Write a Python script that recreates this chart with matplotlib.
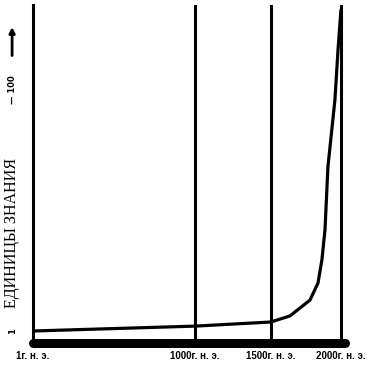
import numpy as np
import matplotlib
matplotlib.use('Agg')
import matplotlib.pyplot as plt

# годы и "единицы знания"
years = [1, 1000, 1500, 1636, 1779, 1836, 1864, 1886, 1907, 1957, 1979, 2000]
knowledge = [1.0, 3.0, 4.7, 7.2, 13.7, 20.7, 30.2, 42.5, 68.4, 95.9, 116.4, 132.9]
tick_years = [1, 1000, 1500, 2000]
tick_labels = ['1г. н. э.', '1000г. н. э.', '1500г. н. э.', '2000г. н. э.']
vlines = [1000, 1500, 2000]
ytick_vals = [1, 100]

# ось времени на рисунке не линейная: кусочная шкала
anchor_y = [-100, 1, 1000, 1500, 2000, 2100]
anchor_p = [-16.2, 0, 162, 238, 308, 322]

def fwd(x):
    return np.interp(x, anchor_y, anchor_p)

def inv(p):
    return np.interp(p, anchor_p, anchor_y)

fig = plt.figure(figsize=(3.76, 3.68), dpi=100)
ax = fig.add_axes([33/376, 25/368, 312/376, 338/368])
ax.set_xscale('function', functions=(fwd, inv))
ax.set_xlim(1, 2029)
ax.set_ylim(-3.93, 134.9)

for v in vlines:
    ax.axvline(v, color='black', lw=2.2, zorder=2)

ax.plot(years, knowledge, color='black', lw=2.3, solid_capstyle='round', zorder=3)

ax.spines['top'].set_visible(False)
ax.spines['right'].set_visible(False)
ax.spines['left'].set_linewidth(2.2)
ax.spines['bottom'].set_linewidth(6.5)
ax.spines['bottom'].set_capstyle('round')

ax.set_xticks(tick_years)
ax.set_xticklabels(tick_labels, family='Liberation Sans', fontweight='bold', fontsize=7)
ax.tick_params(axis='x', length=0, pad=6)
ax.set_yticks([])

tr = ax.get_yaxis_transform()
ax.text(-0.067, ytick_vals[0], '1', transform=tr, rotation=90, ha='center', va='center',
        fontsize=6, fontweight='bold')
ax.text(-0.067, ytick_vals[1], '— 100', transform=tr, rotation=90, ha='center', va='center',
        fontsize=6, fontweight='bold')
ax.annotate('', xy=(-0.067, 127), xytext=(-0.067, 113), xycoords=tr, textcoords=tr,
            arrowprops=dict(arrowstyle='-|>', lw=2, color='black', mutation_scale=8),
            annotation_clip=False)
ax.text(-0.067, 41.3, 'ЕДИНИЦЫ ЗНАНИЯ', transform=tr, rotation=90, ha='center', va='center',
        family='Liberation Serif', fontsize=11.5)

plt.savefig('out.png', dpi=100)
